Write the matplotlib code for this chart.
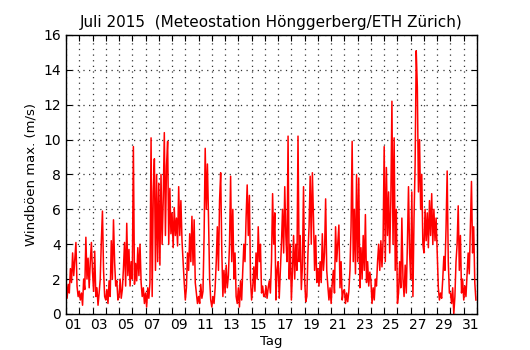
import numpy as np
import matplotlib
matplotlib.use("Agg")
import matplotlib.pyplot as plt

# Windboeen max. (m/s), 2-stuendlich, Juli 2015 (12 Werte pro Tag)
woche1 = [1.9, 0.9, 1.7, 1.2, 2.6, 1.8, 3.5, 2.2, 3.2, 4.1, 1.6, 1.0,   # 01
          1.3, 0.8, 1.2, 0.5, 2.0, 1.4, 4.4, 2.0, 3.2, 1.5, 3.0, 4.1,   # 02
          2.4, 1.3, 3.6, 1.0, 1.5, 0.5, 1.2, 2.0, 4.2, 5.9, 2.5, 1.0,   # 03
          0.8, 1.4, 0.6, 1.9, 1.0, 4.2, 2.0, 5.4, 3.0, 1.6, 1.9, 0.8,   # 04
          1.0, 2.0, 0.9, 1.4, 2.6, 4.1, 1.6, 5.2, 2.2, 3.7, 1.6, 3.0,   # 05
          2.0, 9.6, 1.7, 2.9, 1.9, 3.8, 2.2, 4.0, 1.8, 1.0, 1.5, 0.6,   # 06
          1.2, 0.4, 1.5, 0.9, 1.8, 10.1, 1.0, 7.0, 8.9, 2.5, 8.0, 3.0]  # 07
woche2 = [7.5, 2.8, 8.0, 4.0, 6.5, 10.4, 4.5, 8.5, 9.9, 4.0, 7.2, 4.6,  # 08
          5.8, 3.8, 6.1, 4.5, 5.5, 3.9, 7.3, 4.5, 6.5, 4.2, 3.0, 1.8,   # 09
          0.8, 1.5, 3.5, 2.5, 4.6, 3.0, 5.6, 2.8, 5.4, 1.8, 1.2, 0.6,   # 10
          1.0, 0.6, 1.7, 0.9, 1.3, 4.5, 9.5, 6.0, 8.6, 5.5, 2.0, 0.8,   # 11
          0.4, 1.0, 0.6, 1.5, 3.0, 5.0, 2.5, 6.5, 8.1, 3.7, 1.0, 2.5,   # 12
          1.2, 2.8, 1.5, 2.2, 4.0, 7.9, 3.0, 6.0, 2.0, 3.5, 1.0, 0.6,   # 13
          1.5, 0.4, 1.9, 0.8, 2.5, 4.0, 3.0, 5.5, 7.4, 4.5, 6.8, 2.0]   # 14
woche3 = [0.8, 1.5, 2.7, 1.3, 3.5, 2.0, 5.0, 3.0, 4.0, 1.2, 1.6, 1.0,   # 15
          1.0, 1.6, 0.9, 1.5, 1.9, 1.2, 3.0, 6.9, 4.0, 5.8, 0.8, 2.5,   # 16
          3.0, 0.9, 2.5, 4.0, 6.0, 3.5, 7.3, 4.5, 3.0, 10.2, 2.0, 4.0,  # 17
          0.8, 2.5, 4.5, 2.0, 4.0, 2.5, 10.2, 3.0, 4.5, 1.4, 2.8, 7.3,  # 18
          2.0, 0.7, 1.0, 3.5, 5.0, 7.9, 4.0, 8.1, 5.5, 2.5, 4.5, 1.8,   # 19
          2.6, 1.6, 3.0, 1.8, 4.6, 2.5, 3.5, 6.6, 2.5, 1.6, 0.8, 1.5,   # 20
          0.6, 1.8, 2.5, 1.2, 5.0, 3.0, 4.0, 5.1, 1.5, 3.0, 0.8, 1.3]   # 21
woche4 = [1.4, 0.6, 1.2, 0.7, 1.3, 2.5, 5.0, 9.9, 3.0, 6.0, 2.3, 8.0,   # 22
          3.0, 7.8, 1.5, 3.8, 2.0, 4.5, 2.5, 5.7, 1.8, 3.0, 1.6, 2.4,   # 23
          1.9, 0.6, 1.5, 0.8, 2.0, 1.6, 3.0, 4.0, 2.5, 4.2, 2.7, 4.2,   # 24
          9.6, 3.0, 8.4, 4.5, 7.0, 3.5, 6.5, 12.2, 4.0, 10.1, 2.5, 6.0, # 25
          0.6, 1.2, 3.0, 1.5, 5.5, 2.0, 1.0, 2.8, 1.2, 4.0, 7.3, 3.5,   # 26
          2.0, 7.0, 1.0, 5.5, 8.6, 15.1, 13.0, 7.0, 10.0, 6.0, 8.0, 4.0, # 27
          3.5, 6.0, 4.2, 5.8, 3.8, 6.5, 4.5, 6.9, 4.0, 6.0, 4.2, 5.5]   # 28
rest = [3.5, 1.5, 0.8, 1.2, 0.9, 2.0, 3.3, 2.5, 5.0, 8.2, 3.0, 1.2,     # 29
        1.2, 0.6, 1.5, 0.0, 1.0, 3.0, 4.0, 6.2, 2.5, 4.5, 1.2, 2.0,     # 30
        0.8, 1.6, 1.0, 2.2, 3.5, 2.3, 5.0, 7.6, 3.5, 5.0, 1.8, 0.8]     # 31

tag_labels = ["%02d" % d for d in range(1, 32, 2)]

werte = np.array(woche1 + woche2 + woche3 + woche4 + rest)
zeit = np.arange(len(werte)) / 12.0   # Tage seit 1. Juli 00:00

fig = plt.figure(figsize=(5.3, 3.5), dpi=100)
ax = fig.add_axes([0.1245, 0.103, 0.7755, 0.797])
ax.plot(zeit, werte, color="red", linewidth=1.1)

ax.set_xlim(0, 31)
ax.set_ylim(0, 16)
ax.set_yticks(range(0, 17, 2))
ax.set_xticks(range(0, 32))
ax.set_xticklabels([])
ax.set_xticks(np.arange(0.5, 31, 2.0), minor=True)
ax.set_xticklabels(tag_labels, minor=True)
ax.tick_params(axis="x", which="minor", length=0, pad=3)
ax.tick_params(which="major", direction="in", top=True, right=True, length=4)
ax.tick_params(labelsize=10)
ax.grid(True, which="major", color="#333333", linestyle=(0, (1, 3.5)), linewidth=0.9)
for s in ax.spines.values():
    s.set_linewidth(1.0)

ax.set_title("Juli 2015  (Meteostation Hönggerberg/ETH Zürich)", fontsize=11)
ax.set_xlabel("Tag", fontsize=9.5, labelpad=2)
ax.set_ylabel("Windböen max. (m/s)", fontsize=9.5)

plt.savefig("out.png", dpi=100)
